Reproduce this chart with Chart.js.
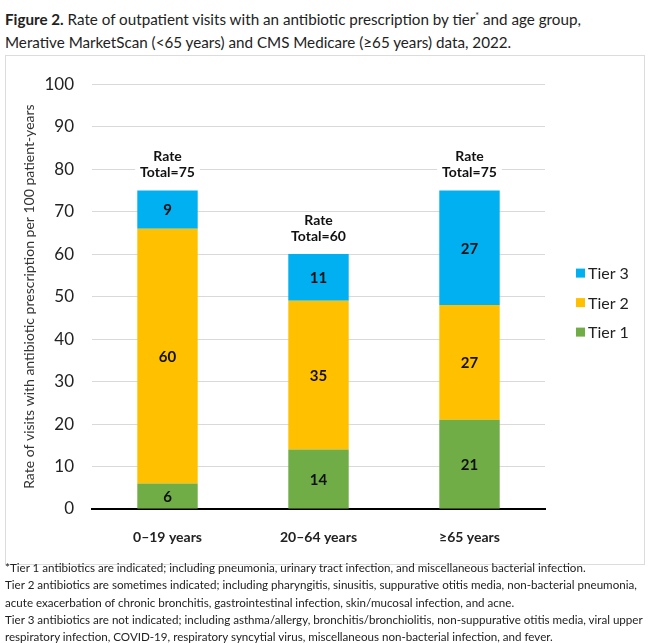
<!DOCTYPE html>
<html>
<head>
<meta charset="utf-8">
<script src="https://cdn.jsdelivr.net/npm/chart.js@4"></script>
<style>
  body { margin: 0; background: #fff; font-family: Lato, "Open Sans", sans-serif; color: #222; }
  #title { position: absolute; left: 5px; top: 4px; font-size: 15.2px; line-height: 23px; white-space: nowrap; }
  #title sup { font-size: 9px; }
  #box { position: absolute; left: 5px; top: 55px; width: 640px; height: 510px; border: 1px solid #dcdcdc; box-sizing: border-box; }
  #notes { position: absolute; left: 5px; top: 559px; font-size: 11.6px; line-height: 17.3px; white-space: nowrap; }
</style>
</head>
<body>
<div id="title"><b>Figure 2.</b> Rate of outpatient visits with an antibiotic prescription by tier<sup>*</sup> and age group,<br>Merative MarketScan (&lt;65 years) and CMS Medicare (≥65 years) data, 2022.</div>
<div id="box"><canvas id="rateChart"></canvas></div>
<div id="notes">*Tier 1 antibiotics are indicated; including pneumonia, urinary tract infection, and miscellaneous bacterial infection.<br>
Tier 2 antibiotics are sometimes indicated; including pharyngitis, sinusitis, suppurative otitis media, non-bacterial pneumonia,<br>
acute exacerbation of chronic bronchitis, gastrointestinal infection, skin/mucosal infection, and acne.<br>
Tier 3 antibiotics are not indicated; including asthma/allergy, bronchitis/bronchiolitis, non-suppurative otitis media, viral upper<br>
respiratory infection, COVID-19, respiratory syncytial virus, miscellaneous non-bacterial infection, and fever.</div>
<script>
const ageGroups = ["0\u201319 years", "20\u201364 years", "\u226565 years"];
const tier1 = [6, 14, 21];
const tier2 = [60, 35, 27];
const tier3 = [9, 11, 27];
const yTicks = [0, 10, 20, 30, 40, 50, 60, 70, 80, 90, 100];

const colors = {
    tier1: "#70AD47",
    tier2: "#FFC000",
    tier3: "#00B0F0",
    grid: "#d9d9d9",
    text: "#222222"
};

// value labels, totals and the legend on the right
const labelPlugin = {
    id: "labels",
    afterDatasetsDraw(chart) {
        const ctx = chart.ctx;
        ctx.save();
        ctx.textAlign = "center";
        ctx.textBaseline = "middle";
        ctx.font = "bold 15px Lato";
        ctx.fillStyle = "#111";
        chart.data.datasets.forEach((ds, i) => {
            chart.getDatasetMeta(i).data.forEach((bar, j) => {
                ctx.fillText(String(ds.data[j]), bar.x, (bar.y + bar.base) / 2 + 1);
            });
        });
        const last = chart.getDatasetMeta(chart.data.datasets.length - 1).data;
        ctx.font = "bold 14px Lato";
        last.forEach((bar, j) => {
            const total = chart.data.datasets.reduce((s, ds) => s + ds.data[j], 0);
            const lines = ["Rate", "Total=" + total];
            lines.forEach((t, k) => {
                const y = bar.y - 34 + k * 16;
                const w = ctx.measureText(t).width + 10;
                ctx.fillStyle = "#fff";
                ctx.fillRect(bar.x - w / 2, y - 8, w, 16);
                ctx.fillStyle = "#111";
                ctx.fillText(t, bar.x, y);
            });
        });
        ctx.restore();
    },
    afterDraw(chart) {
        const ctx = chart.ctx;
        const area = chart.chartArea;
        const items = chart.data.datasets.slice().reverse();
        const x = area.right + 31;
        const yc = (area.top + area.bottom) / 2 + 6;
        ctx.save();
        ctx.font = "16px Lato";
        ctx.textBaseline = "middle";
        items.forEach((ds, k) => {
            const y = yc + (k - 1) * 29.5;
            ctx.fillStyle = ds.backgroundColor;
            ctx.fillRect(x, y - 4.5, 9, 9);
            ctx.fillStyle = colors.text;
            ctx.fillText(ds.label, x + 12, y + 1);
        });
        ctx.restore();
    }
};

new Chart(document.getElementById("rateChart"), {
    type: "bar",
    data: {
        labels: ageGroups,
        datasets: [
            { label: "Tier 1", data: tier1, backgroundColor: colors.tier1 },
            { label: "Tier 2", data: tier2, backgroundColor: colors.tier2 },
            { label: "Tier 3", data: tier3, backgroundColor: colors.tier3 }
        ]
    },
    options: {
        responsive: true,
        maintainAspectRatio: false,
        animation: false,
        barPercentage: 0.4,
        categoryPercentage: 1,
        layout: { padding: { top: 17, right: 99, bottom: 0, left: 0 } },
        plugins: {
            legend: { display: false },
            tooltip: { enabled: false }
        },
        scales: {
            x: {
                stacked: true,
                grid: { display: false },
                border: { display: true, color: "#000", width: 2 },
                ticks: { color: colors.text, font: { family: "Lato", size: 14, weight: "bold" }, padding: 12 },
                afterFit(s) { s.height = 55; }
            },
            y: {
                stacked: true,
                min: 0,
                max: 100,
                afterBuildTicks(s) { s.ticks = yTicks.map(v => ({ value: v })); },
                grid: { color: colors.grid, drawTicks: false },
                border: { display: false },
                ticks: { color: colors.text, font: { family: "Lato", size: 17 }, padding: 18 },
                title: {
                    display: true,
                    text: "Rate of visits with antibiotic prescription per 100 patient-years",
                    color: "#333",
                    font: { family: "Lato", size: 14 },
                    padding: { top: 15, bottom: 0 }
                },
                afterFit(s) { s.width = 86; }
            }
        }
    },
    plugins: [labelPlugin]
});
</script>
</body>
</html>
